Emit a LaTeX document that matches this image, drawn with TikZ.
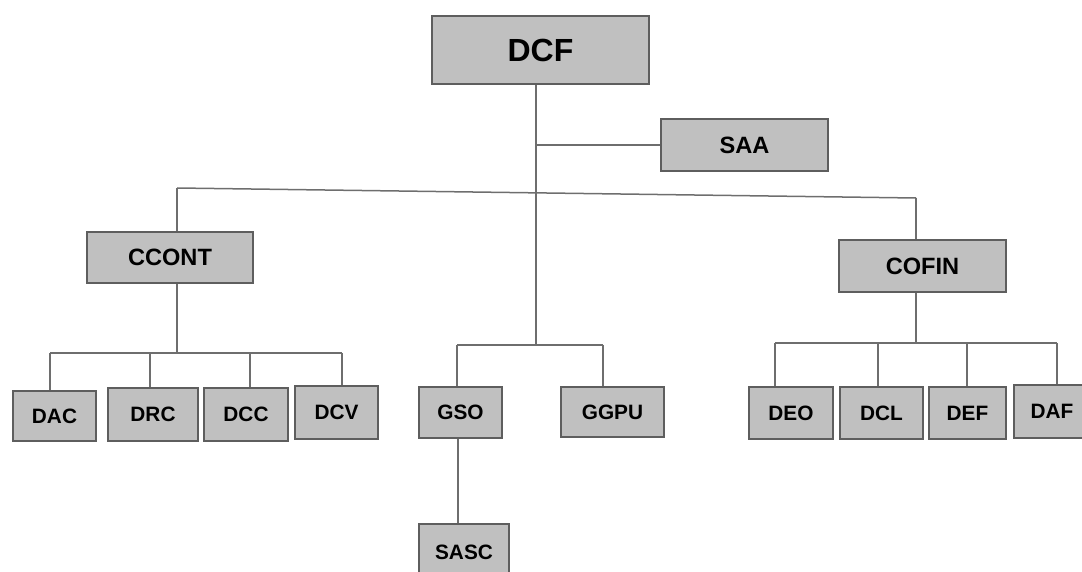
\documentclass[tikz,border=0pt]{standalone}
\usepackage{fontspec}
\setmainfont{Liberation Sans}
\usepackage{tikz}
\usetikzlibrary{positioning,calc}
\definecolor{boxfill}{HTML}{C0C0C0}
\definecolor{boxline}{HTML}{5E5E5E}
\definecolor{wire}{HTML}{6E6E6E}
\tikzset{
    x=0.5pt,y=-0.5pt,
    unit/.style ={rectangle, draw=boxline, fill=boxfill, line width=1pt, inner sep=0pt, text=black},
    head/.style ={unit, font=\bfseries\fontsize{16}{17}\selectfont},
    dept/.style ={unit, font=\bfseries\fontsize{11.8}{12}\selectfont},
    desk/.style ={unit, font=\bfseries\fontsize{10.4}{11}\selectfont},
    link/.style ={draw=wire, line width=0.75pt}
}
\begin{document}
\begin{tikzpicture}
        \useasboundingbox (0,0) rectangle (1082,572);
        % top level
        \node[head, minimum width=108.5pt, minimum height=34pt] (dcf) at (540.5,50) {DCF};
        \node[dept, minimum width=83.5pt, minimum height=26pt] (saa) at (744.5,145) {SAA};
        \node[dept, minimum width=83pt, minimum height=25.5pt] (ccont) at (170,257.5) {CCONT};
        \node[dept, minimum width=83.5pt, minimum height=26pt] (cofin) at (922.5,266) {COFIN};
        % left desks
        \node[desk, minimum width=41.5pt, minimum height=25pt] (dac) at (54.5,416) {DAC};
        \node[desk, minimum width=45pt, minimum height=26.5pt] (drc) at (153,414.5) {DRC};
        \node[desk, minimum width=42pt, minimum height=26.5pt] (dcc) at (246,414.5) {DCC};
        \node[desk, minimum width=41.5pt, minimum height=26.5pt] (dcv) at (336.5,412.5) {DCV};
        % middle desks
        \node[desk, minimum width=41.5pt, minimum height=25.5pt] (gso) at (460.5,412.5) {GSO};
        \node[desk, minimum width=51.5pt, minimum height=25pt] (ggpu) at (612.5,412) {GGPU};
        \node[desk, minimum width=45pt, minimum height=28pt] (sasc) at (464,552) {SASC};
        % right desks
        \node[desk, minimum width=42pt, minimum height=26pt] (deo) at (791,413) {DEO};
        \node[desk, minimum width=41.5pt, minimum height=26pt] (dcl) at (881.5,413) {DCL};
        \node[desk, minimum width=38.5pt, minimum height=26pt] (def) at (967.5,413) {DEF};
        \node[desk, minimum width=38pt, minimum height=26.5pt] (daf) at (1052,411.5) {DAF};
        % trunk and main bar
        \coordinate (trunk) at (536,345);
        \coordinate (lcorner) at (177,188);
        \coordinate (rcorner) at (916,198);
        \path[link] (trunk |- dcf.south) -- (trunk);
        \path[link] (trunk |- saa.west) -- (saa.west);
        \path[link] (lcorner) -- (rcorner);
        \path[link] (lcorner) -- (lcorner |- ccont.north);
        \path[link] (rcorner) -- (rcorner |- cofin.north);
        % CCONT branch
        \path[link] (177,0 |- ccont.south) -- (177,353);
        \path[link] (50,353) -- (342,353);
        \path[link] (50,353) -- (50,0 |- dac.north);
        \path[link] (150,353) -- (150,0 |- drc.north);
        \path[link] (250,353) -- (250,0 |- dcc.north);
        \path[link] (342,353) -- (342,0 |- dcv.north);
        % middle branch
        \path[link] (457,345) -- (603,345);
        \path[link] (457,345) -- (457,0 |- gso.north);
        \path[link] (603,345) -- (603,0 |- ggpu.north);
        \path[link] (458,0 |- gso.south) -- (458,0 |- sasc.north);
        % COFIN branch
        \path[link] (916,0 |- cofin.south) -- (916,343);
        \path[link] (775,343) -- (1057,343);
        \path[link] (775,343) -- (775,0 |- deo.north);
        \path[link] (878,343) -- (878,0 |- dcl.north);
        \path[link] (967,343) -- (967,0 |- def.north);
        \path[link] (1057,343) -- (1057,0 |- daf.north);
\end{tikzpicture}
\end{document}
